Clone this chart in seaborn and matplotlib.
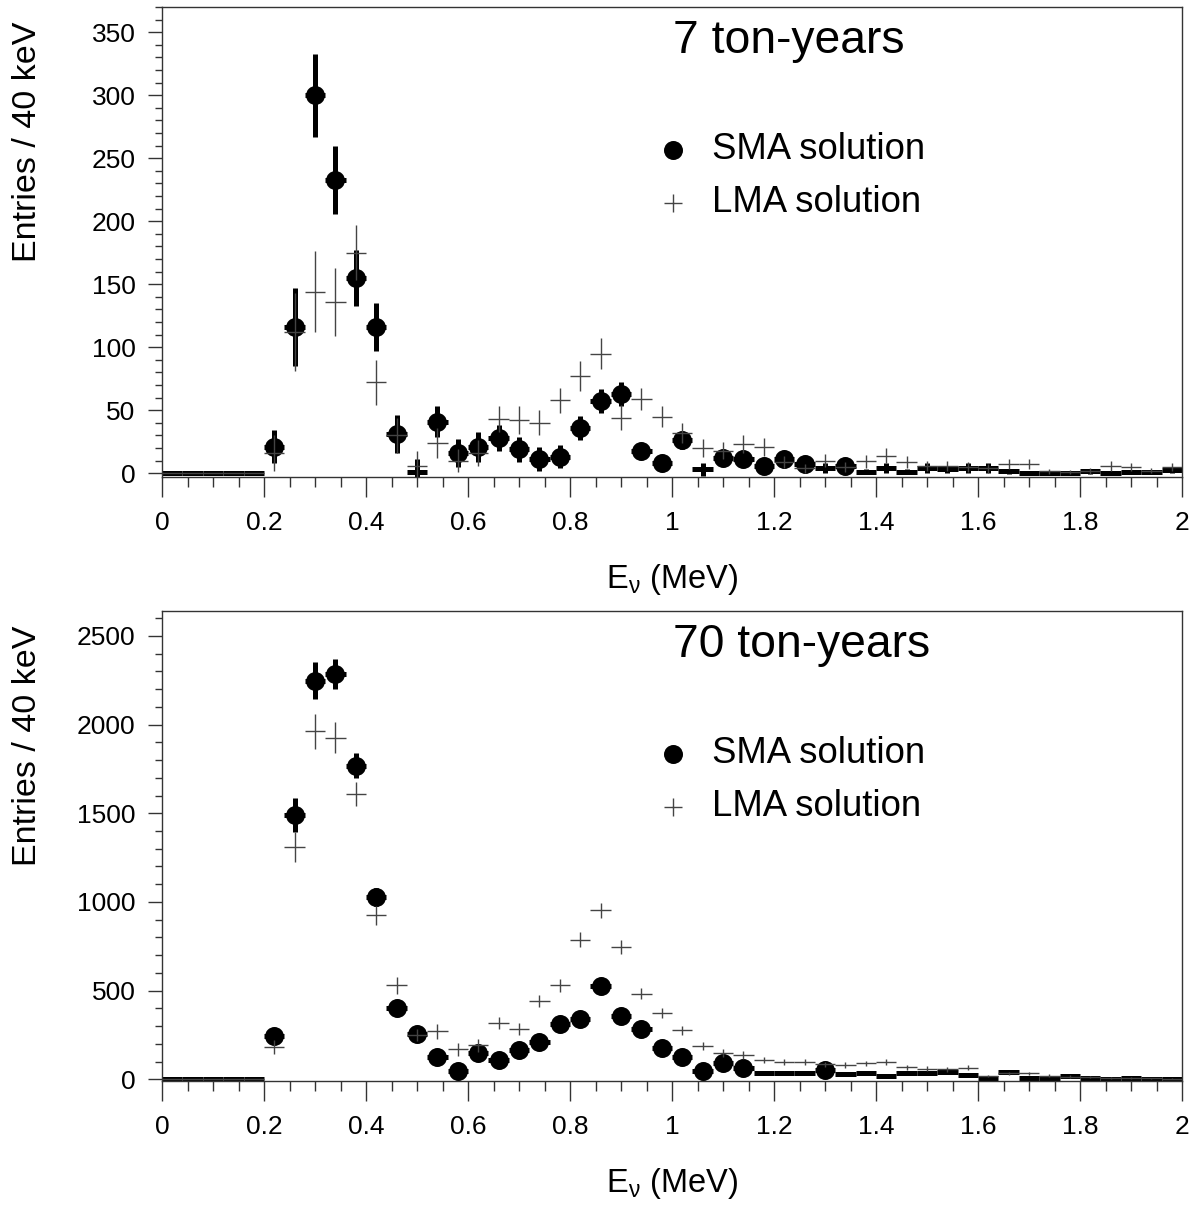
import numpy as np
import pandas as pd
import matplotlib
matplotlib.use("Agg")
import matplotlib.pyplot as plt
from matplotlib.ticker import MultipleLocator, FixedLocator
import seaborn as sns

# === Data (40 keV bins from 0 to 2 MeV) ===
e_nu = np.round(np.arange(0.02, 2.0, 0.04), 2)   # bin centres (MeV)
half_bin = 0.02

x_ticks = [0, 0.2, 0.4, 0.6, 0.8, 1.0, 1.2, 1.4, 1.6, 1.8, 2.0]
x_tick_labels = ["0", "0.2", "0.4", "0.6", "0.8", "1", "1.2", "1.4", "1.6", "1.8", "2"]

# 7 ton-years
sma_7 = [0, 0, 0, 0, 0, 21, 116, 300, 233, 155, 116, 31, 1, 41, 16, 21, 28, 19, 11, 13,
         36, 57, 63, 18, 8, 26, 3, 12, 11, 5.5, 11, 7, 4, 6, 1, 4, 1, 4, 3, 4,
         4, 1.5, 0.5, 0, 0.5, 1.5, 0.5, 1, 1, 2.5]
sma_7_err = [0, 0, 0, 0, 0, 13, 31, 33, 27, 22, 19, 15, 10, 12, 11, 12, 10, 10, 9.5, 9,
             9.5, 9.5, 9.5, 6, 4, 7, 5, 5, 5, 4, 5, 4, 4, 4, 2, 4, 2, 4, 3, 4,
             4, 2, 1, 0.5, 1, 2, 1, 1, 1, 2.5]
lma_7 = [0, 0, 0, 0, 0, 16, 112, 144, 136, 175, 72, 30, 6, 24, 10, 16, 43, 42, 40, 58,
         77, 95, 44, 59, 45, 32, 20, 18, 23, 21, 9, 4, 10, 5, 9.5, 14, 9, 6, 5.5, 5,
         4, 7, 7, 1.5, 1, 2, 6, 5, 2, 5]
lma_7_err = [0, 0, 0, 0, 0, 14, 31, 32, 27, 22, 18, 14, 12, 12, 9, 10, 10, 11, 10, 10,
             12, 12, 10, 9, 8.5, 8, 7, 6.5, 7, 7, 5, 3.5, 5, 4, 5, 6, 5, 4, 4, 4,
             3.5, 4, 4, 2, 1.5, 2.5, 4, 3.5, 2, 3.5]

# 70 ton-years
sma_70 = [0, 0, 0, 0, 0, 244, 1490, 2247, 2286, 1768, 1027, 400, 257, 128, 45, 148, 107, 165, 210, 315,
          338, 529, 357, 282, 175, 128, 47, 94, 66, 37, 37, 34, 52, 32, 37, 19, 37, 37, 41, 22,
          7, 41, 9, 7, 19, 9, 2, 7, 5, 4]
sma_70_err = [0, 0, 0, 0, 0, 30, 95, 103, 86, 70, 50, 35, 28, 20, 12, 22, 18, 23, 25, 30,
              31, 40, 32, 28, 22, 20, 12, 17, 14, 11, 11, 10, 12, 10, 11, 8, 11, 11, 11, 8,
              5, 11, 5, 5, 8, 5, 3, 5, 4, 4]
lma_70 = [0, 0, 0, 0, 0, 184, 1310, 1961, 1927, 1609, 925, 531, 250, 272, 169, 192, 317, 282, 441, 531,
          788, 952, 745, 484, 375, 278, 188, 150, 137, 109, 97, 99, 84, 81, 90, 98, 69, 60, 56, 66,
          19, 34, 34, 20, 15, 12, 10, 8, 6, 5]
lma_70_err = [0, 0, 0, 0, 0, 40, 85, 100, 85, 68, 55, 47, 32, 42, 35, 35, 35, 34, 34, 36,
              40, 40, 38, 32, 28, 25, 22, 22, 22, 18, 17, 17, 16, 15, 16, 17, 14, 13, 12, 13,
              8, 10, 10, 8, 7, 6, 6, 5, 4, 4]

# === Style ===
sns.set_theme(style="white")
plt.rcParams["font.family"] = ["Liberation Sans", "DejaVu Sans"]
plt.rcParams["mathtext.fontset"] = "custom"
plt.rcParams["mathtext.rm"] = "Liberation Sans"
plt.rcParams["mathtext.it"] = "Liberation Sans:italic"
plt.rcParams["text.color"] = "black"
plt.rcParams["axes.labelcolor"] = "black"
plt.rcParams["xtick.color"] = "black"
plt.rcParams["ytick.color"] = "black"

W, H = 1196, 1205
fig = plt.figure(figsize=(W / 100, H / 100), dpi=100)
fig.patch.set_facecolor("white")

AX_LEFT, AX_RIGHT = 162, 1182
AX_H = 470
MARKER_D = 19          # circle diameter in pixels
LMA_COLOR = "#444444"


def make_axes(top_px):
    return fig.add_axes([AX_LEFT / W, (H - top_px - AX_H) / H,
                         (AX_RIGHT - AX_LEFT) / W, AX_H / H])


def draw_panel(ax, sma, sma_err, lma, lma_err, ylim, ymajor, yminor, title):
    ax.set_xlim(0, 2)
    ax.set_ylim(*ylim)
    ax.set_facecolor("white")

    # SMA: thick black error bars
    ax.errorbar(e_nu, sma, xerr=half_bin, yerr=sma_err, fmt="none",
                ecolor="black", elinewidth=3.6, capsize=0, zorder=2)

    # SMA circles, only where the marker fits inside the frame (ROOT style)
    r_data = (MARKER_D / 2) * (ylim[1] - ylim[0]) / AX_H
    df = pd.DataFrame({"E": e_nu, "N": sma})
    shown = df[df["N"] - r_data >= ylim[0]]
    sns.scatterplot(data=shown, x="E", y="N", ax=ax, s=(MARKER_D * 0.72) ** 2,
                    color="black", linewidth=0, zorder=3, legend=False)

    # LMA: thin grey crosses
    ax.errorbar(e_nu, lma, xerr=half_bin, yerr=lma_err, fmt="none",
                ecolor=LMA_COLOR, elinewidth=1.0, capsize=0, zorder=4)

    # axes and ticks
    ax.xaxis.set_major_locator(FixedLocator(x_ticks))
    ax.set_xticklabels(x_tick_labels)
    ax.xaxis.set_minor_locator(MultipleLocator(0.05))
    ax.yaxis.set_major_locator(MultipleLocator(ymajor))
    ax.yaxis.set_minor_locator(MultipleLocator(yminor))
    ax.tick_params(axis="x", which="major", direction="out", length=14.4, width=1.0,
                   colors="#333333", labelcolor="black", labelsize=19, pad=10, bottom=True, top=False)
    ax.tick_params(axis="x", which="minor", direction="out", length=7.2, width=1.0,
                   colors="#333333", bottom=True, top=False)
    ax.tick_params(axis="y", which="major", direction="out", length=10, width=1.0,
                   colors="#333333", labelcolor="black", labelsize=19, pad=9, left=True, right=False)
    ax.tick_params(axis="y", which="minor", direction="out", length=5, width=1.0,
                   colors="#333333", left=True, right=False)
    for sp in ax.spines.values():
        sp.set_visible(True)
        sp.set_color("#333333")
        sp.set_linewidth(1.0)
    ax.set_xlabel("")
    ax.set_ylabel("")

    # titles
    ax.text(0.5, -0.219, r"E$_{\mathrm{\nu}}$ (MeV)", transform=ax.transAxes,
            ha="center", va="center", fontsize=23.5)
    ax.text(-0.132, 0.968, "Entries / 40 keV", transform=ax.transAxes, rotation=90,
            ha="center", va="top", fontsize=24.5)
    ax.text(0.501, 0.902, title, transform=ax.transAxes, ha="left", va="baseline", fontsize=33.3)

    # legend
    ax.plot([0.501], [0.696], "o", ms=MARKER_D * 0.72, color="black", mew=0,
            transform=ax.transAxes, clip_on=False)
    ax.plot([0.501], [0.583], "+", ms=13, mew=1.0, color=LMA_COLOR,
            transform=ax.transAxes, clip_on=False)
    ax.text(0.539, 0.696, "SMA solution", transform=ax.transAxes, ha="left", va="center", fontsize=26.3)
    ax.text(0.539, 0.583, "LMA solution", transform=ax.transAxes, ha="left", va="center", fontsize=26.3)


ax_top = make_axes(7)
draw_panel(ax_top, sma_7, sma_7_err, lma_7, lma_7_err, (-3, 370), 50, 10, "7 ton-years")

ax_bot = make_axes(611)
draw_panel(ax_bot, sma_70, sma_70_err, lma_70, lma_70_err, (-9, 2640), 500, 100, "70 ton-years")

fig.savefig("out.png", dpi=100, facecolor="white")
plt.close(fig)
